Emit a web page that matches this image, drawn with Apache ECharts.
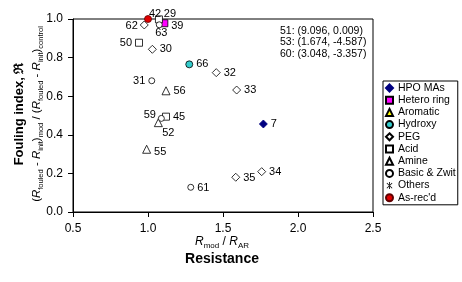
<!DOCTYPE html>
<html>
<head>
<meta charset="utf-8">
<title>Fouling index vs resistance</title>
<script src="https://cdn.jsdelivr.net/npm/echarts@6/dist/echarts.min.js"></script>
<style>
  html, body { margin: 0; padding: 0; background: #fff; }
  #main { width: 462px; height: 282px; }
</style>
</head>
<body>
<div id="main"></div>
<script>
// [Rmod/RAR, fouling index, membrane id]
var hpoMAs     = [[1.769, 0.456, '7']];
var heteroRing = [[1.109, 0.978, '39']];
var aromatic   = [];
var hydroxy    = [[1.275, 0.765, '66']];
var peg        = [[0.975, 0.969, '62'], [1.029, 0.843, '30'], [1.455, 0.722, '32'],
                  [1.591, 0.632, '33'], [1.758, 0.209, '34'], [1.585, 0.180, '35']];
var acid       = [[1.073, 0.998, '29'], [0.940, 0.877, '50'], [1.120, 0.494, '45']];
var amine      = [[1.120, 0.628, '56'], [1.069, 0.463, '52'], [0.991, 0.325, '55']];
var basicZwit  = [[1.075, 0.970, '63'], [1.025, 0.680, '31'], [1.089, 0.485, '59'], [1.285, 0.128, '61']];
var others     = [];
var asRecd     = [[1.000, 1.000, '42']];

var outliers = ['51: (9.096, 0.009)', '53: (1.674, -4.587)', '60: (3.048, -3.357)'];
var xTicks = [0.5, 1.0, 1.5, 2.0, 2.5];
var yTicks = [0.0, 0.2, 0.4, 0.6, 0.8, 1.0];

// where each point label sits
var labelPos = { '62': 'left', '50': 'left', '31': 'left', '59': 'left', '63': 'bottom', '52': 'bottom' };
var labelOff = {
  '42': [-6, -5], '29': [-2, -5], '63': [2, -4], '39': [0, 3], '62': [1, 1],
  '59': [1, -3], '52': [10, -3], '55': [0, 3], '35': [0, 1], '61': [0, 1]
};

var font = 'Liberation Sans, Arial, sans-serif';
var asterisk = 'path://M4.4,0H5.6V10H4.4Z M0.8,1.6L1.6,0.8L9.2,8.4L8.4,9.2Z M9.2,1.6L8.4,0.8L0.8,8.4L1.6,9.2Z';

function pts(arr) {
  return arr.map(function (d) {
    return {
      value: d,
      label: { position: labelPos[d[2]] || 'right', offset: labelOff[d[2]] || [0, 0] }
    };
  });
}

function mk(name, data, symbol, size, fill, border) {
  return {
    name: name,
    type: 'scatter',
    data: pts(data),
    symbol: symbol,
    symbolSize: size,
    clip: false,
    itemStyle: { color: fill, borderColor: border, borderWidth: border ? 0.8 : 0, opacity: 1 },
    label: {
      show: true, distance: 3, color: '#000', fontFamily: font, fontSize: 11,
      formatter: function (p) { return p.value[2]; }
    },
    emphasis: { disabled: true }
  };
}

var chart = echarts.init(document.getElementById('main'), null, { renderer: 'canvas' });

chart.setOption({
  backgroundColor: '#fff',
  animation: false,
  grid: { left: 73, right: 89, top: 19, bottom: 70, show: true, borderColor: '#000', borderWidth: 1, backgroundColor: 'transparent' },
  xAxis: {
    type: 'value', min: xTicks[0], max: xTicks[xTicks.length - 1], interval: 0.5,
    axisLine: { lineStyle: { color: '#000', width: 1 } },
    axisTick: { length: 5, lineStyle: { color: '#000' } },
    splitLine: { show: false },
    axisLabel: { color: '#000', fontFamily: font, fontSize: 12, margin: 11, formatter: function (v) { return v.toFixed(1); } }
  },
  yAxis: {
    type: 'value', min: yTicks[0], max: yTicks[yTicks.length - 1], interval: 0.2,
    axisLine: { show: true, lineStyle: { color: '#000', width: 1 } },
    axisTick: { show: true, length: 5, lineStyle: { color: '#000' } },
    splitLine: { show: false },
    axisLabel: { color: '#000', fontFamily: font, fontSize: 12, margin: 10, formatter: function (v) { return v.toFixed(1); } }
  },
  legend: {
    orient: 'vertical', left: 383, top: 81,
    borderColor: '#000', borderWidth: 1, padding: [1, 2, 1, 2],
    itemWidth: 7, itemHeight: 7, itemGap: 0.2, itemTextGap: 3,
    textStyle: { color: '#000', fontFamily: font, fontSize: 10.5, lineHeight: 12 },
    selectedMode: false
  },
  series: [
    mk('HPO MAs', hpoMAs, 'diamond', 8, '#000080', '#000080'),
    mk('Hetero ring', heteroRing, 'rect', 7, '#ff00ff', '#000'),
    mk('Aromatic', aromatic, 'triangle', 8, '#ffff00', '#000'),
    mk('Hydroxy', hydroxy, 'circle', 7, '#33cccc', '#000'),
    mk('PEG', peg, 'diamond', 8, '#fff', '#000'),
    mk('Acid', acid, 'rect', 7, '#fff', '#000'),
    mk('Amine', amine, 'triangle', 8, '#fff', '#000'),
    mk('Basic & Zwit', basicZwit, 'circle', 6, '#fff', '#000'),
    mk('Others', others, asterisk, 7, '#000', null),
    mk("As-rec'd", asRecd, 'circle', 7, '#e00000', '#600000')
  ],
  graphic: [
    {
      type: 'text', left: 280, top: 25,
      style: { text: outliers.join('\n'), fontFamily: font, fontSize: 10.5, lineHeight: 11.7, fill: '#000' }
    },
    {
      type: 'text', x: 19, y: 114, rotation: Math.PI / 2,
      style: {
        text: 'Fouling index, \u211C', fontFamily: font, fontSize: 13, fontWeight: 'bold',
        fill: '#000', align: 'center', verticalAlign: 'middle'
      }
    },
    {
      type: 'text', x: 37, y: 114, rotation: Math.PI / 2,
      style: {
        text: '{n|(}{i|R}{s|fouled}{n| - }{i|R}{s|init}{n|)}{s|mod}{n| / (}{i|R}{s|fouled}{n| - }{i|R}{s|init}{n|)}{s|control}',
        align: 'center', verticalAlign: 'middle', fill: '#000',
        rich: {
          n: { fontFamily: font, fontSize: 11.5, lineHeight: 16, verticalAlign: 'middle' },
          i: { fontFamily: font, fontSize: 11.5, fontStyle: 'italic', lineHeight: 16, verticalAlign: 'middle' },
          s: { fontFamily: font, fontSize: 7.5, lineHeight: 16, verticalAlign: 'bottom', padding: [5, 0, 0, 0] }
        }
      }
    },
    {
      type: 'text', x: 222, y: 242,
      style: {
        text: '{i|R}{s|mod}{n| / }{i|R}{s|AR}',
        align: 'center', verticalAlign: 'middle', fill: '#000',
        rich: {
          n: { fontFamily: font, fontSize: 12, lineHeight: 16, verticalAlign: 'middle' },
          i: { fontFamily: font, fontSize: 12, fontStyle: 'italic', lineHeight: 16, verticalAlign: 'middle' },
          s: { fontFamily: font, fontSize: 8, lineHeight: 16, verticalAlign: 'bottom', padding: [5, 0, 0, 0] }
        }
      }
    },
    {
      type: 'text', x: 222, y: 259,
      style: {
        text: 'Resistance', fontFamily: font, fontSize: 14, fontWeight: 'bold',
        fill: '#000', align: 'center', verticalAlign: 'middle'
      }
    }
  ]
});
</script>
</body>
</html>
